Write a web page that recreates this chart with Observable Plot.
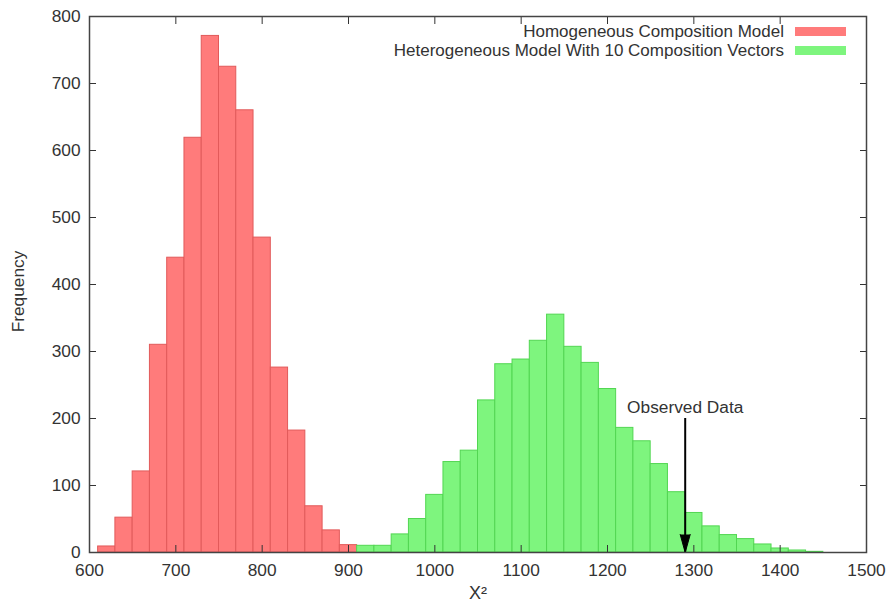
<!DOCTYPE html>
<html><head><meta charset="utf-8">
<script src="https://cdn.jsdelivr.net/npm/d3@7"></script>
<script src="https://cdn.jsdelivr.net/npm/@observablehq/plot@0.6"></script>
<style>
body{margin:0;background:#fff;font-family:"Liberation Sans",Arial,sans-serif;}
#wrap{position:relative;width:892px;height:610px;}
#legend{position:absolute;top:22px;right:46px;font-size:17px;color:#333;}
.row{display:flex;align-items:center;justify-content:flex-end;height:19.2px;line-height:19px;}
.sw{width:51px;height:9px;margin-left:11px;}
</style></head><body>
<div id="wrap"><div id="chart"></div><div id="legend"></div></div>
<script>
// Homogeneous composition model histogram (bin start, width 20)
const homBinStart = [610,630,650,670,690,710,730,750,770,790,810,830,850,870,890];
const homCounts   = [9,52,121,310,440,619,771,725,660,470,276,182,69,33,11];
// Heterogeneous model with 10 composition vectors
const hetBinStart = [910,930,950,970,990,1010,1030,1050,1070,1090,1110,1130,1150,1170,1190,1210,1230,1250,1270,1290,1310,1330,1350,1370,1390,1410,1430];
const hetCounts   = [10,10,27,50,86,135,152,227,281,288,316,355,307,283,244,186,166,132,90,59,39,26,20,12,6,3,1];
const binWidth = 20;
const xTicks = [600,700,800,900,1000,1100,1200,1300,1400,1500];
const yTicks = [0,100,200,300,400,500,600,700,800];
const xLabel = "X²";
const yLabel = "Frequency";
const seriesNames = ["Homogeneous Composition Model","Heterogeneous Model With 10 Composition Vectors"];
const seriesFill = ["#ff7b7b","#7ef57e"];
const seriesStroke = ["#e25a5a","#52d652"];
const observed = [{x: 1290, top: 200, label: "Observed Data"}];

const hom = homBinStart.map((s,i)=>({x1:s, x2:s+binWidth, y:homCounts[i]}));
const het = hetBinStart.map((s,i)=>({x1:s, x2:s+binWidth, y:hetCounts[i]}));

const ink = "#333";
const fs = 17.3;
const chart = Plot.plot({
  width: 892, height: 610,
  marginLeft: 89, marginRight: 26, marginTop: 16, marginBottom: 58,
  style: {fontFamily: '"Liberation Sans", Arial, sans-serif', fontSize: fs + "px", color: ink, background: "#fff"},
  x: {domain: [600,1500]},
  y: {domain: [0,800]},
  marks: [
    Plot.rectY(hom, {x1:"x1", x2:"x2", y:"y", fill: seriesFill[0], stroke: seriesStroke[0], strokeWidth: 1}),
    Plot.rectY(het, {x1:"x1", x2:"x2", y:"y", fill: seriesFill[1], stroke: seriesStroke[1], strokeWidth: 1}),
    Plot.ruleX(observed, {x:"x", y1:"top", y2:0, stroke:"#000", strokeWidth: 2}),
    Plot.vector(observed, {x:"x", y:0, length: 18, r: 5, rotate: 180, shape: "spike", anchor: "end", fill:"#000", stroke:"#000", strokeWidth: 1}),
    Plot.text(observed, {x:"x", y:"top", text:"label", dy:-11, fontSize: fs, fill: ink}),
    Plot.axisX(xTicks, {anchor:"bottom", tickSize:-7, tickPadding:18, stroke: ink, label:null, tickFormat: d => String(d), fontSize: fs}),
    Plot.axisX(xTicks, {anchor:"top", tickSize:-7, stroke: ink, fill:"none", label:null}),
    Plot.axisY(yTicks, {anchor:"left", tickSize:-7, tickPadding:16, stroke: ink, label:null, tickFormat: d => String(d), fontSize: fs}),
    Plot.axisY(yTicks, {anchor:"right", tickSize:-7, stroke: ink, fill:"none", label:null}),
    Plot.text([xLabel], {text: d => d, frameAnchor:"bottom", dy:46, fontSize: 18, fill: ink}),
    Plot.text([yLabel], {text: d => d, frameAnchor:"left", textAnchor:"middle", dx:-71, dy:7, rotate:-90, fontSize: fs, fill: ink}),
    Plot.frame({stroke:"#444", strokeWidth:1.5})
  ]
});
document.getElementById("chart").append(chart);

const legend = document.getElementById("legend");
seriesNames.forEach((n,i)=>{
  const row = document.createElement("div"); row.className="row";
  const t = document.createElement("span"); t.textContent = n;
  const sw = document.createElement("span"); sw.className="sw"; sw.style.background = seriesFill[i];
  row.append(t, sw); legend.append(row);
});
</script>
</body></html>
